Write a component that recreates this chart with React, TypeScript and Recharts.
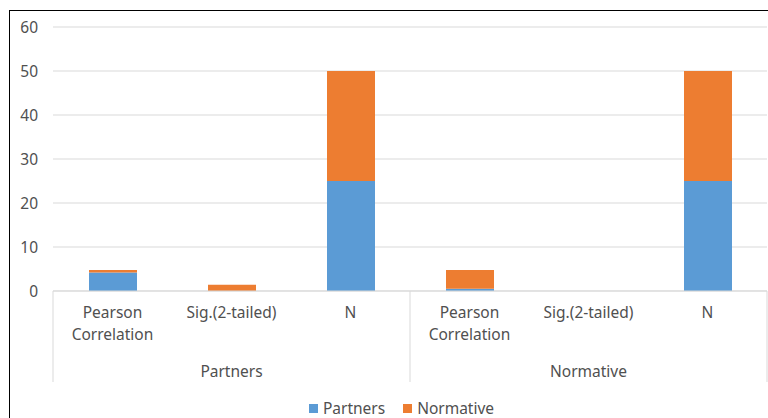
import { BarChart, Bar, XAxis, YAxis, CartesianGrid, Legend } from 'recharts'

const groups = ['Partners', 'Partners', 'Partners', 'Normative', 'Normative', 'Normative']
const metrics = ['Pearson Correlation', 'Sig.(2-tailed)', 'N', 'Pearson Correlation', 'Sig.(2-tailed)', 'N']
const partnersValues = [4.2, 0, 25, 0.5, 0, 25]
const normativeValues = [0.55, 1.4, 25, 4.25, 0, 25]
const yTicks = [0, 10, 20, 30, 40, 50, 60]

const seriesNames = ['Partners', 'Normative']
const colors = ['#5B9BD5', '#ED7D31']

const data = metrics.map((m, i) => ({
  metric: m,
  group: groups[i],
  Partners: partnersValues[i],
  Normative: normativeValues[i],
}))

const W = 768
const H = 418
const LEFT = 53
const RIGHT = 1
const BAND = (W - LEFT - RIGHT) / data.length
const FONT = '"Noto Sans", sans-serif'
const FS = 15.5
const TEXT = '#505050'
const LINE = '#d9d9d9'

function MetricTick({ x, y, payload, index }: any) {
  const words = payload.value === 'Pearson Correlation' ? ['Pearson', 'Correlation'] : [payload.value]
  return (
    <g>
      {(index === 0 || index === 3) && <line x1={x - BAND / 2} x2={x - BAND / 2} y1={y} y2={y + 91} stroke={LINE} />}
      {index === data.length - 1 && <line x1={x + BAND / 2} x2={x + BAND / 2} y1={y} y2={y + 91} stroke={LINE} />}
      <text x={x} y={y} textAnchor="middle" fill={TEXT} fontSize={FS} fontFamily={FONT}>
        {words.map((w, i) => (
          <tspan key={i} x={x} dy={i === 0 ? 27 : 22}>{w}</tspan>
        ))}
      </text>
    </g>
  )
}

function GroupTick({ x, y, payload, index }: any) {
  if (index !== 1 && index !== 4) return null
  return (
    <text x={x} y={y + 26} textAnchor="middle" fill={TEXT} fontSize={FS} fontFamily={FONT}>
      {payload.value}
    </text>
  )
}

function LegendContent() {
  return (
    <div style={{ display: 'flex', justifyContent: 'center', alignItems: 'center', height: 20, fontFamily: FONT, fontSize: FS, color: TEXT }}>
      {seriesNames.map((n, i) => (
        <div key={n} style={{ display: 'flex', alignItems: 'center', marginRight: i === 0 ? 18 : 0 }}>
          <span style={{ width: 9, height: 9, background: colors[i], marginRight: 5, display: 'inline-block' }} />
          <span>{n}</span>
        </div>
      ))}
    </div>
  )
}

export default function App() {
  return (
    <div style={{ position: 'fixed', left: 0, top: 0, width: W, height: H, overflow: 'hidden', background: '#fff' }}>
      <div style={{ position: 'absolute', left: 9, top: 10, width: 800, height: 500, border: '1px solid #000' }} />
      <div style={{ position: 'absolute', left: 0, top: 0 }}>
        <BarChart width={W} height={H} data={data} margin={{ top: 27, right: RIGHT, left: 0, bottom: 0 }}>
          <CartesianGrid vertical={false} stroke={LINE} />
          <XAxis
            dataKey="metric"
            interval={0}
            height={60}
            tickLine={false}
            tickSize={0}
            tickMargin={0}
            axisLine={{ stroke: LINE }}
            tick={<MetricTick />}
          />
          <XAxis
            xAxisId="group"
            dataKey="group"
            interval={0}
            height={47}
            tickLine={false}
            tickSize={0}
            tickMargin={0}
            axisLine={false}
            tick={<GroupTick />}
          />
          <YAxis
            domain={[0, 60]}
            ticks={yTicks}
            width={LEFT}
            axisLine={false}
            tickLine={false}
            tickSize={0}
            tickMargin={15}
            tick={{ fill: TEXT, fontSize: FS, fontFamily: FONT }}
          />
          <Legend verticalAlign="bottom" content={<LegendContent />} wrapperStyle={{ left: 35, width: 733 }} />
          {seriesNames.map((n, i) => (
            <Bar key={n} dataKey={n} stackId="a" fill={colors[i]} barSize={48} isAnimationActive={false} />
          ))}
        </BarChart>
      </div>
    </div>
  )
}
